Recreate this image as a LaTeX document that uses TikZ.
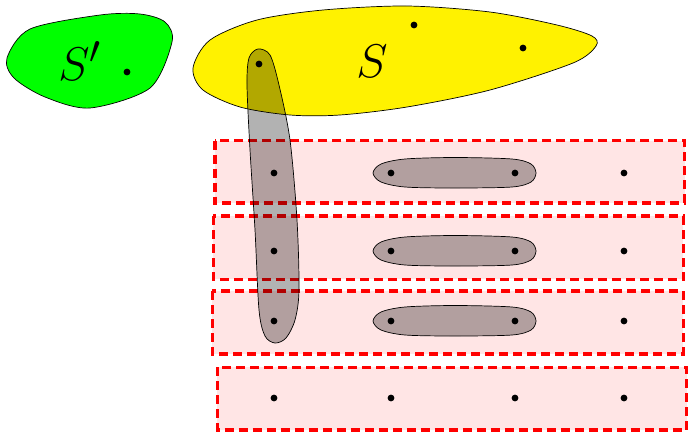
\documentclass[tikz,border=0pt]{standalone}
\begin{document}
\begin{tikzpicture}[x=1pt,y=-1pt,
  dot/.style={circle,fill=black,inner sep=0pt,minimum size=6.8pt},
  blob/.style={draw=black,line width=0.7pt},
  rowbox/.style={draw=red,fill=red!10,line width=3.6pt,dash pattern=on 9pt off 5pt},
  shade/.style={draw=black,line width=0.7pt,fill=black,fill opacity=0.3},
  biglabel/.style={font=\Huge,scale=1.9}]
\useasboundingbox (0,0) rectangle (688,432);

% the two sets
\draw[blob,fill=green] plot[smooth cycle] coordinates
  {(7,58) (30,29) (100,15) (140,14) (165,22) (172,42) (150,88) (90,108) (45,97) (14,78)};
\node[biglabel] (Sp) at (80,61) {$S'$};
\draw[blob,fill=yellow] plot[smooth cycle] coordinates
  {(193,68) (210,40) (257,20) (323,10) (407,6) (490,12) (557,25) (592,36) (596,46)
   (573,63) (490,90) (407,107) (340,115) (290,115) (240,107) (203,90)};
\node[biglabel] (S) at (372,61) {$S$};

% rows
\draw[rowbox] (214.7,140.5) rectangle (684.5,203);
\draw[rowbox] (213.3,216) rectangle (683.3,279.3);
\draw[rowbox] (212.3,291) rectangle (683.3,354);
\draw[rowbox] (217.3,367.3) rectangle (686.5,430);

% column and pairs
\draw[shade] plot[smooth cycle] coordinates
  {(258,49) (270,55) (279,85) (290,140) (297,220) (299,290) (295,320) (286,338)
   (275,343) (265,336) (259,310) (255,230) (250,150) (247,85) (249,58)};
\foreach \y in {173,251,321}
  \draw[shade] plot[smooth cycle] coordinates
    {(373,\y) (381,{\y-9}) (405,{\y-14}) (455,{\y-15.5}) (512,{\y-14}) (531,{\y-9})
     (536,\y) (531,{\y+9}) (512,{\y+14}) (455,{\y+15}) (405,{\y+14}) (381,{\y+9})};

% points
\node[dot] (a) at (127,72) {};
\node[dot] (b) at (414,25) {};
\node[dot] (c) at (523,48) {};
\node[dot] (d) at (259,64) {};
\foreach \y [count=\r] in {173,251,321,398}
  \foreach \x [count=\c] in {274,391,515,624}
    \node[dot] (p\r\c) at (\x,\y) {};
\end{tikzpicture}
\end{document}
